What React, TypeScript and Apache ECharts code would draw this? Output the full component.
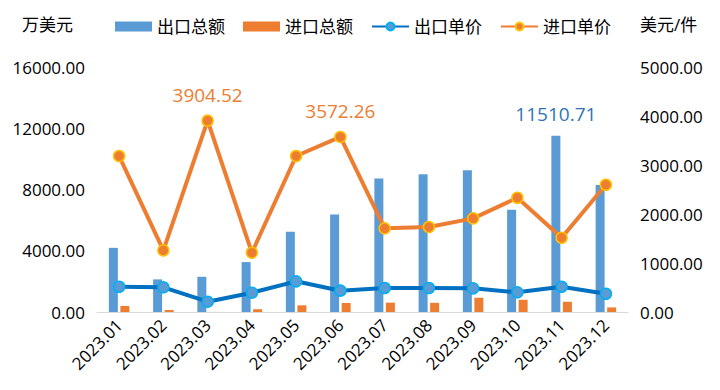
import React, { useEffect, useRef } from "react";
import * as echarts from "echarts";

const months = ["2023.01","2023.02","2023.03","2023.04","2023.05","2023.06","2023.07","2023.08","2023.09","2023.10","2023.11","2023.12"];
const exportAmount = [4190, 2130, 2300, 3260, 5240, 6370, 8720, 9000, 9260, 6670, 11510.71, 8300];
const importAmount = [390, 130, 5, 175, 435, 590, 610, 600, 930, 800, 670, 300];
const exportPrice = [516, 504, 210, 394, 626, 435, 490, 490, 483, 402, 516, 373];
const importPrice = [3183, 1258, 3904.52, 1210, 3183, 3572.26, 1707, 1734, 1911, 2332, 1516, 2597];
const exportAmountLabelIdx = [10];
const importPriceLabelIdx = [2, 5];
const leftTicks = { min: 0, max: 16000, interval: 4000 };
const rightTicks = { min: 0, max: 5000, interval: 1000 };

const FONT = "'Open Sans', 'Noto Sans CJK SC', sans-serif";

export default function App() {
  const ref = useRef<HTMLDivElement>(null);
  useEffect(() => {
    document.body.style.margin = "0";
    const chart = echarts.init(ref.current!, undefined, { renderer: "svg" });
    chart.setOption({
      animation: false,
      textStyle: { fontFamily: FONT },
      grid: { left: 97, right: 92, top: 67, bottom: 78 },
      legend: {
        left: 110,
        top: 13,
        itemWidth: 37,
        itemHeight: 10,
        itemGap: 18,
        textStyle: { fontSize: 17, color: "#000", fontFamily: FONT },
        data: [
          { name: "出口总额", icon: "rect" },
          { name: "进口总额", icon: "rect" },
          { name: "出口单价" },
          { name: "进口单价" },
        ],
      },
      xAxis: {
        type: "category",
        data: months,
        axisLine: { lineStyle: { color: "#D9D9D9", width: 1 } },
        axisTick: { show: false },
        axisLabel: { rotate: 45, fontSize: 17, color: "#000", margin: 10, interval: 0 },
      },
      yAxis: [
        {
          type: "value",
          ...leftTicks,
          name: "万美元",
          nameGap: 34,
          nameTextStyle: { fontSize: 17, color: "#000", align: "right", padding: [0, 24, 0, 0] },
          axisLine: { show: false },
          axisTick: { show: false },
          splitLine: { show: false },
          axisLabel: { fontSize: 17, color: "#000", margin: 12, formatter: (v: number) => v.toFixed(2) },
        },
        {
          type: "value",
          ...rightTicks,
          name: "美元/件",
          nameGap: 34,
          nameTextStyle: { fontSize: 17, color: "#000", align: "left", padding: [0, 0, 0, 12] },
          axisLine: { show: false },
          axisTick: { show: false },
          splitLine: { show: false },
          axisLabel: { fontSize: 17, color: "#000", margin: 12, formatter: (v: number) => v.toFixed(2) },
        },
      ],
      series: [
        {
          name: "出口总额",
          type: "bar",
          barWidth: 9,
          barGap: "28%",
          itemStyle: { color: "#5B9BD5" },
          data: exportAmount.map((v, i) => ({
            value: v,
            label: exportAmountLabelIdx.includes(i)
              ? { show: true, position: "top", distance: 12, fontSize: 19, color: "#2E75B6", formatter: (p: any) => p.value.toFixed(2) }
              : { show: false },
          })),
        },
        {
          name: "进口总额",
          type: "bar",
          barWidth: 9,
          itemStyle: { color: "#ED7D31" },
          data: importAmount,
        },
        {
          name: "出口单价",
          type: "line",
          yAxisIndex: 1,
          symbol: "circle",
          symbolSize: 11,
          lineStyle: { color: "#0070C0", width: 4 },
          itemStyle: { color: "#5B9BD5", borderColor: "#00B0F0", borderWidth: 1.5 },
          data: exportPrice,
        },
        {
          name: "进口单价",
          type: "line",
          yAxisIndex: 1,
          symbol: "circle",
          symbolSize: 11,
          lineStyle: { color: "#ED7D31", width: 4 },
          itemStyle: { color: "#ED7D31", borderColor: "#FFC000", borderWidth: 1.5 },
          data: importPrice.map((v, i) => ({
            value: v,
            label: importPriceLabelIdx.includes(i)
              ? { show: true, position: "top", distance: 10, fontSize: 19, color: "#ED7D31", formatter: (p: any) => p.value.toFixed(2) }
              : { show: false },
          })),
        },
      ],
    });
    return () => chart.dispose();
  }, []);
  return <div ref={ref} style={{ width: 720, height: 390 }} />;
}
